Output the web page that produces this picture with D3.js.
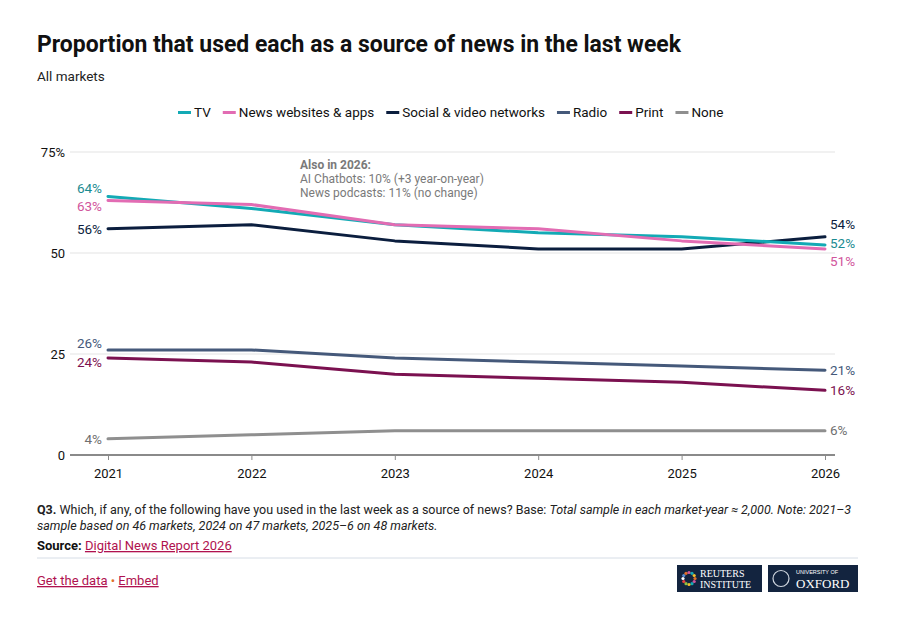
<!DOCTYPE html>
<html>
<head>
<meta charset="utf-8">
<script src="https://cdn.jsdelivr.net/npm/d3@7"></script>
<style>
  body { margin: 0; background: #fff; }
  svg { display: block; }
  .cond { font-family: "Roboto", "Noto Sans", sans-serif; }
  .plex { font-family: "Roboto", "Noto Sans", sans-serif; }
</style>
</head>
<body>
<svg id="chart" width="898" height="623"></svg>
<script>
// data
const years = [2021, 2022, 2023, 2024, 2025, 2026];
const seriesNames = ["TV", "News websites & apps", "Social & video networks", "Radio", "Print", "None"];
const tv = [64, 61, 57, 55, 54, 52];
const newsSites = [63, 62, 57, 56, 53, 51];
const social = [56, 57, 53, 51, 51, 54];
const radio = [26, 26, 24, 23, 22, 21];
const print = [24, 23, 20, 19, 18, 16];
const none = [4, 5, 6, 6, 6, 6];
const yTicks = [0, 25, 50, 75];

const colors = ["#13aab5", "#e26cb3", "#0b1e3e", "#45597a", "#7b1150", "#8f8f8f"];
const labelColors = ["#1a8b91", "#d1559c", "#0b1e3e", "#45597a", "#7b1150", "#6f6f6f"];
// vertical nudges for end labels so they don't collide
const startNudge = [-8, 6, 0, -7, 4, 0];
const endNudge = [-2, 12, -13, 0, 0, -1];

const allSeries = [tv, newsSites, social, radio, print, none];

const svg = d3.select("#chart");

const x = d3.scalePoint().domain(years).range([108, 825]);
const y = d3.scaleLinear().domain([0, 75]).range([455, 152]);

// title
svg.append("text").attr("class", "cond")
  .attr("x", 37).attr("y", 52)
  .attr("font-size", 23).attr("font-weight", "bold").attr("fill", "#111")
  .attr("textLength", 644).attr("lengthAdjust", "spacingAndGlyphs")
  .text("Proportion that used each as a source of news in the last week");
svg.append("text").attr("class", "cond")
  .attr("x", 37).attr("y", 81)
  .attr("font-size", 13.5).attr("fill", "#222")
  .text("All markets");

// legend
const legend = svg.append("g").attr("class", "cond").attr("transform", "translate(178,117)");
let lx = 0;
seriesNames.forEach((name, i) => {
  const g = legend.append("g").attr("transform", `translate(${lx},0)`);
  g.append("line").attr("x1", 0).attr("x2", 13).attr("y1", -4.5).attr("y2", -4.5)
    .attr("stroke", colors[i]).attr("stroke-width", 3);
  const t = g.append("text").attr("x", 16).attr("font-size", 13.5).attr("fill", "#111").text(name);
  lx += 16 + t.node().getComputedTextLength() + 12;
});

// grid
svg.append("g").selectAll("line").data(yTicks.filter(d => d > 0)).join("line")
  .attr("x1", 70).attr("x2", 835)
  .attr("y1", d => y(d)).attr("y2", d => y(d))
  .attr("stroke", "#e3e3e3").attr("stroke-width", 1);

svg.append("g").attr("class", "plex").selectAll("text").data(yTicks).join("text")
  .attr("x", 65).attr("y", d => y(d) + 5).attr("text-anchor", "end")
  .attr("font-size", 13).attr("fill", "#111")
  .text(d => d === 75 ? "75%" : d);

// x axis
const xAxis = svg.append("g").attr("class", "plex")
  .attr("transform", `translate(0,${y(0)})`)
  .call(d3.axisBottom(x).tickSize(5).tickPadding(9).tickSizeOuter(0));
xAxis.select(".domain").remove();
xAxis.append("line").attr("x1", 70).attr("x2", 835).attr("stroke", "#8a8a8a").attr("stroke-width", 2);
xAxis.selectAll(".tick line").attr("stroke", "#8a8a8a").attr("stroke-width", 1);
xAxis.selectAll(".tick text").attr("font-size", 13).attr("fill", "#111")
  .attr("font-family", "Roboto, sans-serif");

// annotation
const ann = svg.append("g").attr("class", "plex").attr("font-size", 12).attr("fill", "#7a7a7a");
ann.append("text").attr("x", 300).attr("y", 169).attr("font-weight", "bold").text("Also in 2026:");
ann.append("text").attr("x", 300).attr("y", 183).text("AI Chatbots: 10% (+3 year-on-year)");
ann.append("text").attr("x", 300).attr("y", 197).text("News podcasts: 11% (no change)");

// lines
const line = d3.line().x((d, i) => x(years[i])).y(d => y(d));
const order = [5, 4, 3, 2, 0, 1];
svg.append("g").selectAll("path").data(order).join("path")
  .attr("d", i => line(allSeries[i]))
  .attr("fill", "none").attr("stroke", i => colors[i])
  .attr("stroke-width", 3).attr("stroke-linejoin", "round").attr("stroke-linecap", "round");

// end labels
const labs = svg.append("g").attr("class", "plex").attr("font-size", 13.5);
allSeries.forEach((s, i) => {
  labs.append("text").attr("x", x(years[0]) - 6)
    .attr("y", y(s[0]) + 5 + startNudge[i])
    .attr("text-anchor", "end").attr("fill", labelColors[i]).text(s[0] + "%");
  labs.append("text").attr("x", x(years[years.length - 1]) + 5)
    .attr("y", y(s[s.length - 1]) + 5 + endNudge[i])
    .attr("fill", labelColors[i]).text(s[s.length - 1] + "%");
});

// footer
const foot = svg.append("g").attr("class", "cond").attr("font-size", 12.5).attr("fill", "#222");
const f1 = foot.append("text").attr("x", 37).attr("y", 514);
f1.append("tspan").attr("font-weight", "bold").text("Q3.");
f1.append("tspan").text(" Which, if any, of the following have you used in the last week as a source of news? Base: ");
f1.append("tspan").attr("font-style", "italic").text("Total sample in each market-year \u2248 2,000. Note: 2021\u20133");
foot.append("text").attr("x", 37).attr("y", 530).attr("font-style", "italic")
  .text("sample based on 46 markets, 2024 on 47 markets, 2025\u20136 on 48 markets.");
const f3 = foot.append("text").attr("x", 37).attr("y", 550).attr("font-size", 13);
f3.append("tspan").attr("font-weight", "bold").attr("fill", "#111").text("Source: ");
f3.append("tspan").attr("fill", "#b0124f").attr("text-decoration", "underline").text("Digital News Report 2026");
svg.append("line").attr("x1", 37).attr("x2", 858).attr("y1", 558).attr("y2", 558)
  .attr("stroke", "#d6dde6").attr("stroke-width", 1);

const f4 = svg.append("text").attr("class", "cond").attr("x", 37).attr("y", 585).attr("font-size", 13);
f4.append("tspan").attr("fill", "#b0124f").attr("text-decoration", "underline").text("Get the data");
f4.append("tspan").attr("fill", "#e0702a").text(" \u2022 ");
f4.append("tspan").attr("fill", "#b0124f").attr("text-decoration", "underline").text("Embed");

// logos
const logos = svg.append("g");
logos.append("rect").attr("x", 677).attr("y", 565).attr("width", 85).attr("height", 27).attr("fill", "#13243f");
logos.append("rect").attr("x", 768).attr("y", 565).attr("width", 90).attr("height", 27).attr("fill", "#13243f");
const dotCols = ["#e0702a", "#d1559c", "#13aab5", "#f2c12e", "#8fbf3f", "#e84040", "#ffffff", "#5a8fd6"];
d3.range(12).forEach(k => {
  const a = k / 12 * Math.PI * 2;
  logos.append("circle").attr("cx", 689 + 6 * Math.cos(a)).attr("cy", 578.5 + 6 * Math.sin(a))
    .attr("r", 1.6).attr("fill", dotCols[k % dotCols.length]);
});
logos.append("text").attr("x", 700).attr("y", 577).attr("font-family", "Liberation Serif, serif")
  .attr("font-size", 10).attr("fill", "#fff").text("REUTERS");
logos.append("text").attr("x", 700).attr("y", 588).attr("font-family", "Liberation Serif, serif")
  .attr("font-size", 10).attr("fill", "#fff").text("INSTITUTE");
logos.append("circle").attr("cx", 781).attr("cy", 578.5).attr("r", 8).attr("fill", "none").attr("stroke", "#cfd5de").attr("stroke-width", 1.2);
logos.append("text").attr("x", 796).attr("y", 574).attr("font-family", "Liberation Sans, sans-serif")
  .attr("font-size", 5.5).attr("fill", "#fff").text("UNIVERSITY OF");
logos.append("text").attr("x", 796).attr("y", 588).attr("font-family", "Liberation Serif, serif")
  .attr("font-size", 13).attr("fill", "#fff").text("OXFORD");
</script>
</body>
</html>
